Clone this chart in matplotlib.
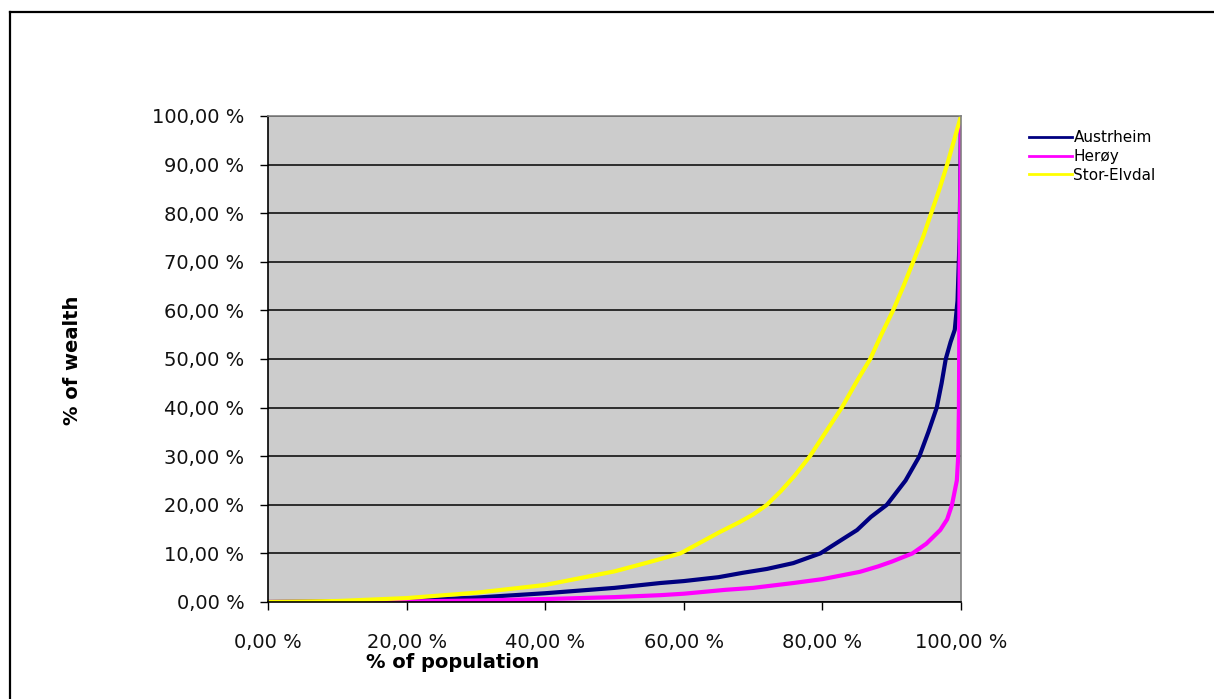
import matplotlib
matplotlib.use('Agg')
import matplotlib.pyplot as plt
from matplotlib.lines import Line2D

# Lorenz-kurver (andel av befolkning / andel av formue), lest av bildet
austrheim_x = [0, 20, 30, 40, 50, 56.6, 60, 65, 68.5, 72, 75.8, 79.7, 83, 85, 87, 89.3, 92, 94, 95.3, 96.5, 97.2, 97.8, 98.5, 99.1, 99.5, 99.8, 100]
austrheim_y = [0, 0.3, 0.9, 1.8, 2.9, 3.9, 4.3, 5.1, 6, 6.8, 8, 10, 13, 14.8, 17.5, 20, 25, 30, 35, 40, 45, 50, 53.5, 56, 62, 75, 100]

heroy_x = [0, 20, 30, 40, 50, 56.6, 60, 66, 70, 75.8, 80, 85.4, 88, 90, 93, 95, 97, 98, 98.7, 99.4, 99.6, 99.7, 99.8, 100]
heroy_y = [0, 0.1, 0.3, 0.6, 1.0, 1.4, 1.7, 2.5, 2.9, 3.9, 4.7, 6.2, 7.3, 8.3, 10, 12, 14.8, 17, 20, 25, 30, 40, 70, 100]

stor_elvdal_x = [0, 10, 20, 30, 40, 50, 55, 59.5, 65.2, 68, 70, 72, 74, 76, 78.2, 80.5, 82.8, 85, 86.9, 88.5, 90.2, 91.7, 93.1, 94.5, 95.7, 96.9, 98, 99, 100]
stor_elvdal_y = [0, 0.2, 0.8, 1.9, 3.5, 6.3, 8.2, 10, 14.4, 16.4, 18, 20, 22.8, 26, 30, 35, 40, 45.5, 50, 55, 60, 65, 70, 75, 80, 85, 90, 95, 100]

y_ticks = [0, 10, 20, 30, 40, 50, 60, 70, 80, 90, 100]
x_ticks = [0, 20, 40, 60, 80, 100]


def pct_label(v):
    return ('%.2f %%' % v).replace('.', ',')


fig = plt.figure(figsize=(12.14, 6.99), dpi=100)
ax = fig.add_axes([0.2208, 0.1388, 0.5708, 0.6953])
ax.set_facecolor('#cccccc')

ax.plot(austrheim_x, austrheim_y, color='#000080', linewidth=3.0, label='Austrheim')
ax.plot(heroy_x, heroy_y, color='#ff00ff', linewidth=3.0, label='Herøy')
ax.plot(stor_elvdal_x, stor_elvdal_y, color='#ffff00', linewidth=3.0, label='Stor-Elvdal')

ax.set_xlim(0, 100)
ax.set_ylim(0, 100)
ax.set_xticks(x_ticks)
ax.set_yticks(y_ticks)
ax.set_xticklabels([pct_label(v) for v in x_ticks])
ax.set_yticklabels([pct_label(v) for v in y_ticks])
ax.tick_params(axis='y', direction='out', length=6, width=1, pad=11, labelsize=14, labelcolor='#111111')
ax.tick_params(axis='x', direction='out', length=6, width=1, pad=16, labelsize=14, labelcolor='#111111')

ax.grid(True, axis='y', color='#111111', linewidth=1.2)
ax.set_axisbelow(True)

for s in ['left', 'bottom']:
    ax.spines[s].set_color('black')
    ax.spines[s].set_linewidth(1.2)
for s in ['top', 'right']:
    ax.spines[s].set_color('#808080')
    ax.spines[s].set_linewidth(1.2)

fig.text(72 / 1214, 1 - 360 / 699, '% of wealth', rotation=90, ha='center', va='center',
         fontsize=14, fontweight='bold')
fig.text(453 / 1214, 1 - 663 / 699, '% of population', ha='center', va='center',
         fontsize=14, fontweight='bold')

leg = ax.legend(loc='upper left', bbox_to_anchor=(1023 / 1214, 1 - 124 / 699),
                bbox_transform=fig.transFigure, frameon=False, fontsize=11,
                handlelength=2.8, handletextpad=0.1, labelspacing=0.25, borderaxespad=0)
for ln in leg.get_lines():
    ln.set_linewidth(2.0)

# ramme rundt diagrammet (bare venstre og topp synlig)
fig.add_artist(Line2D([10 / 1214, 10 / 1214], [0, 1 - 12 / 699], transform=fig.transFigure,
                      color='black', linewidth=1.6))
fig.add_artist(Line2D([10 / 1214, 1], [1 - 12 / 699, 1 - 12 / 699], transform=fig.transFigure,
                      color='black', linewidth=1.6))

fig.savefig('out.png', dpi=100)
